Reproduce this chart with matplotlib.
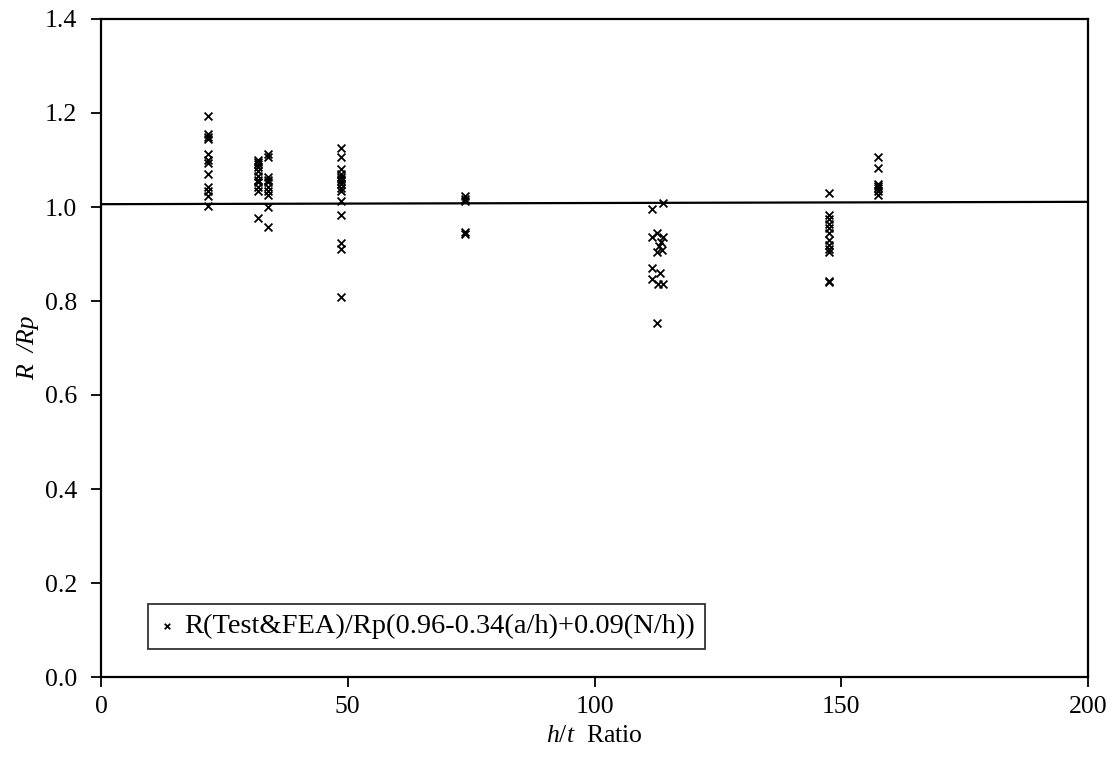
import numpy as np
import matplotlib
matplotlib.use("Agg")
import matplotlib.pyplot as plt

plt.rcParams['font.family'] = ['Liberation Serif', 'DejaVu Serif']
plt.rcParams['mathtext.fontset'] = 'custom'
plt.rcParams['mathtext.it'] = 'Liberation Serif:italic'
plt.rcParams['mathtext.rm'] = 'Liberation Serif'

# h/t groups and R/Rp values
ht_22 = [21.7] * 12
r_22 = [1.194, 1.155, 1.148, 1.144, 1.113, 1.101, 1.094, 1.070, 1.042, 1.035, 1.024, 1.003]

ht_32 = [31.8] * 11
r_32 = [1.101, 1.096, 1.091, 1.086, 1.077, 1.066, 1.057, 1.054, 1.042, 1.033, 0.977]

ht_34 = [33.8] * 10
r_34 = [1.112, 1.107, 1.063, 1.057, 1.053, 1.042, 1.035, 1.025, 0.999, 0.957]

ht_49 = [48.6] * 15
r_49 = [1.125, 1.106, 1.081, 1.070, 1.063, 1.060, 1.055, 1.049, 1.040, 1.033,
        1.013, 0.982, 0.924, 0.911, 0.809]

ht_74 = [73.8] * 5
r_74 = [1.023, 1.018, 1.013, 0.947, 0.943]

ht_113 = [111.7, 113.9, 111.7, 112.7, 113.9, 113.4, 113.1, 112.7, 113.6, 111.7,
          113.3, 111.7, 112.9, 113.9, 112.7]
r_113 = [0.996, 1.008, 0.936, 0.945, 0.937, 0.926, 0.916, 0.905, 0.909, 0.870,
         0.859, 0.847, 0.836, 0.836, 0.754]

ht_148 = [147.6] * 12
r_148 = [1.029, 0.983, 0.974, 0.964, 0.955, 0.944, 0.930, 0.919, 0.910, 0.905, 0.843, 0.840]

ht_158 = [157.5] * 7
r_158 = [1.106, 1.084, 1.050, 1.045, 1.040, 1.035, 1.026]

# trend line end points
line_x = [0, 200]
line_y = [1.006, 1.011]

ht = ht_22 + ht_32 + ht_34 + ht_49 + ht_74 + ht_113 + ht_148 + ht_158
r = r_22 + r_32 + r_34 + r_49 + r_74 + r_113 + r_148 + r_158

fig = plt.figure(figsize=(11.16, 7.6), dpi=100)
ax = fig.add_axes([101 / 1116, 83 / 760, 987 / 1116, 658 / 760])

ax.scatter(ht, r, marker='x', s=32, color='black', linewidths=1.3,
           label='R(Test&FEA)/Rp(0.96-0.34(a/h)+0.09(N/h))', zorder=3)
ax.plot(line_x, line_y, color='black', lw=1.6, zorder=2)

ax.set_xlim(0, 200)
ax.set_ylim(0, 1.4)
ax.set_xticks([0, 50, 100, 150, 200])
ax.set_yticks(np.arange(0, 1.41, 0.2))
ax.yaxis.set_major_formatter(matplotlib.ticker.FormatStrFormatter('%.1f'))
ax.tick_params(direction='out', length=7, width=1.3, labelsize=18.5)
ax.tick_params(axis='y', pad=10)
ax.tick_params(axis='x', pad=7)
for s in ax.spines.values():
    s.set_linewidth(1.6)

ax.set_xlabel(r'$\mathit{h/t}$  Ratio', fontsize=18.5, labelpad=5)
ax.set_ylabel('R  /Rp', fontsize=18.5, fontstyle='italic', labelpad=4)

leg = ax.legend(loc='lower left', bbox_to_anchor=(0.048, 0.042), fontsize=20.5,
                frameon=True, fancybox=False, edgecolor='black', handlelength=0.6,
                handletextpad=0.3, markerscale=0.7, borderpad=0.35, borderaxespad=0)
leg.get_frame().set_linewidth(1.3)

fig.savefig('out.png', dpi=100)
